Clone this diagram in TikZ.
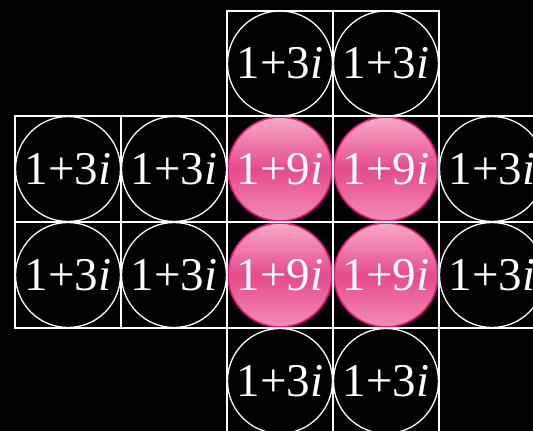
\documentclass[tikz,border=0pt]{standalone}
\usepackage{fontspec}
\setmainfont{Liberation Serif}
\begin{document}
\begin{tikzpicture}[x=1pt,y=-1pt,
  gridline/.style={draw=white,line width=1.4pt},
  plainball/.style={circle,draw=white,line width=1.3pt,fill=black,minimum size=105pt,inner sep=0pt,
     text=white,font=\fontsize{47}{47}\selectfont},
  pinkball/.style={circle,draw={rgb,255:red,226;green,20;blue,122},line width=1.6pt,
     top color={rgb,255:red,248;green,170;blue,200},bottom color={rgb,255:red,243;green,140;blue,182},
     middle color={rgb,255:red,229;green,75;blue,140},
     minimum size=104pt,inner sep=0pt,text=white,font=\fontsize{47}{47}\selectfont}]
\useasboundingbox (0,0) rectangle (533,431);
\clip (0,0) rectangle (533,431);
\fill[black] (0,0) rectangle (533,431);
% circles
\node[plainball] (t1) at (280,63.5) {1+3\textit{i}};
\node[plainball] (t2) at (386,63.5) {1+3\textit{i}};
\node[plainball] (a1) at (68,169) {1+3\textit{i}};
\node[plainball] (a2) at (174,169) {1+3\textit{i}};
\node[pinkball] (a3) at (280,169) {1+9\textit{i}};
\node[pinkball] (a4) at (386,169) {1+9\textit{i}};
\node[plainball] (a5) at (492,169) {1+3\textit{i}};
\node[plainball] (b1) at (68,275) {1+3\textit{i}};
\node[plainball] (b2) at (174,275) {1+3\textit{i}};
\node[pinkball] (b3) at (280,275) {1+9\textit{i}};
\node[pinkball] (b4) at (386,275) {1+9\textit{i}};
\node[plainball] (b5) at (492,275) {1+3\textit{i}};
\node[plainball] (c1) at (280,381) {1+3\textit{i}};
\node[plainball] (c2) at (386,381) {1+3\textit{i}};
% grid
\draw[gridline] (227,11) rectangle (439,116);
\draw[gridline] (333,11) -- (333,116);
\draw[gridline] (15,116) rectangle (545,328);
\draw[gridline] (15,222) -- (545,222);
\foreach \x in {121,227,333,439} \draw[gridline] (\x,116) -- (\x,328);
\draw[gridline] (227,328) rectangle (439,440);
\draw[gridline] (333,328) -- (333,440);
\end{tikzpicture}
\end{document}
